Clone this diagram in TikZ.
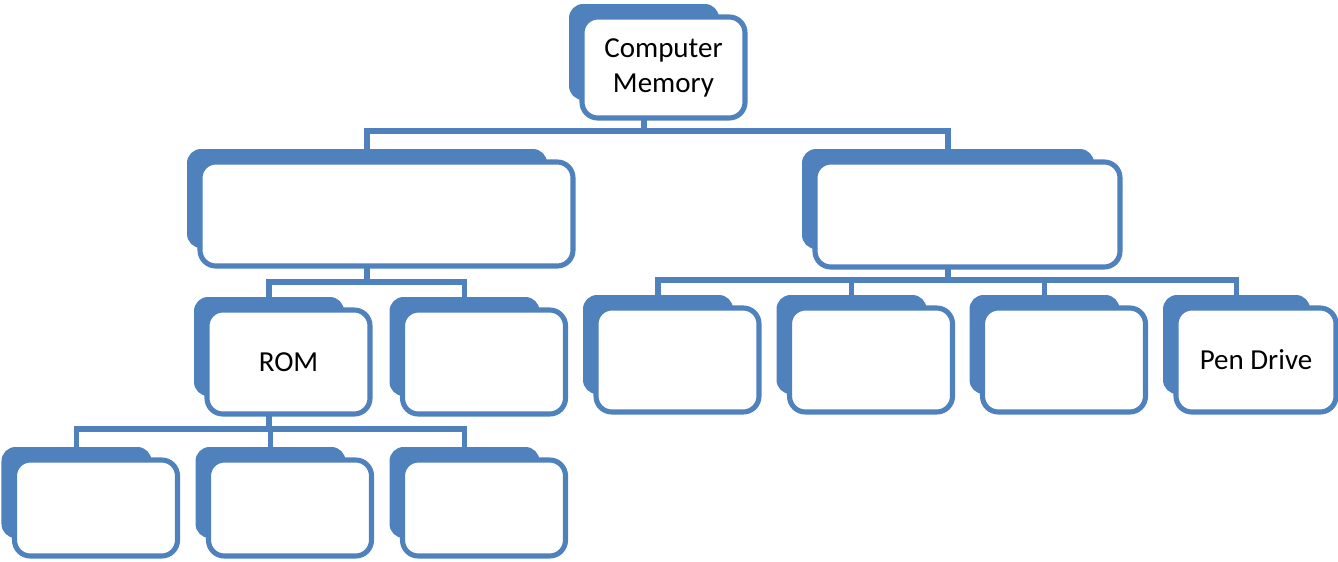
\documentclass[tikz,border=0pt]{standalone}
\usepackage{fontspec}
\setmainfont{Carlito}
\definecolor{cardblue}{RGB}{79,129,189}
\tikzset{
  cardback/.style={fill=cardblue, rounded corners=8, inner sep=0pt, outer sep=0pt},
  card/.style={draw=cardblue, line width=2.9pt, fill=white, rounded corners=9,
    inner sep=0pt, outer sep=0pt, align=center, font=\fontsize{16.5}{20}\selectfont},
  wire/.style={draw=cardblue, line width=2.9pt}
}
% back plate + front card; the wires run on the plate's centre line
\newcommand{\memcard}[6]{% name, x, y (from the top), width, height, text
  \node[cardback, minimum width={(#4-13)*0.02cm}, minimum height={(#5-5)*0.02cm}] (#1-b) at (#2-19.5,15.5-#3) {};
  \node[card, minimum width={#4*0.02cm}, minimum height={#5*0.02cm}] (#1) at (#2,-#3) {#6};
}
\begin{document}
\begin{tikzpicture}[x=0.02cm, y=0.02cm]
  \useasboundingbox (0,-561) rectangle (1338,0);
  \memcard{memory}{663.5}{67.5}{163}{101}{Computer\\Memory}
  \memcard{primary}{386.5}{214}{373}{104}{}
  \memcard{secondary}{967.5}{214.5}{305}{105}{}
  \memcard{rom}{288.5}{362}{163}{104}{ROM}
  \memcard{ram}{484}{362}{163}{104}{}
  \memcard{disk}{677.5}{360}{163}{104}{}
  \memcard{optical}{871}{360}{163}{104}{}
  \memcard{tape}{1064}{360}{163}{104}{}
  \memcard{pendrive}{1256}{360}{160}{104}{Pen Drive}
  \memcard{prom}{96}{508}{163}{96}{}
  \memcard{eprom}{290}{508}{163}{96}{}
  \memcard{eeprom}{484}{508}{163}{96}{}
  % wires
  \foreach \kid in {primary,secondary}
    \draw[wire] (memory-b |- memory.south) -- ++(0,-13) -| (\kid-b.north);
  \foreach \kid in {rom,ram}
    \draw[wire] (primary-b |- primary.south) -- ++(0,-16) -| (\kid-b.north);
  \foreach \kid in {disk,optical,tape,pendrive}
    \draw[wire] (secondary-b |- secondary.south) -- ++(0,-13) -| (\kid-b.north);
  \foreach \kid in {prom,eprom,eeprom}
    \draw[wire] (rom-b |- rom.south) -- ++(0,-15) -| (\kid-b.north);
\end{tikzpicture}
\end{document}
